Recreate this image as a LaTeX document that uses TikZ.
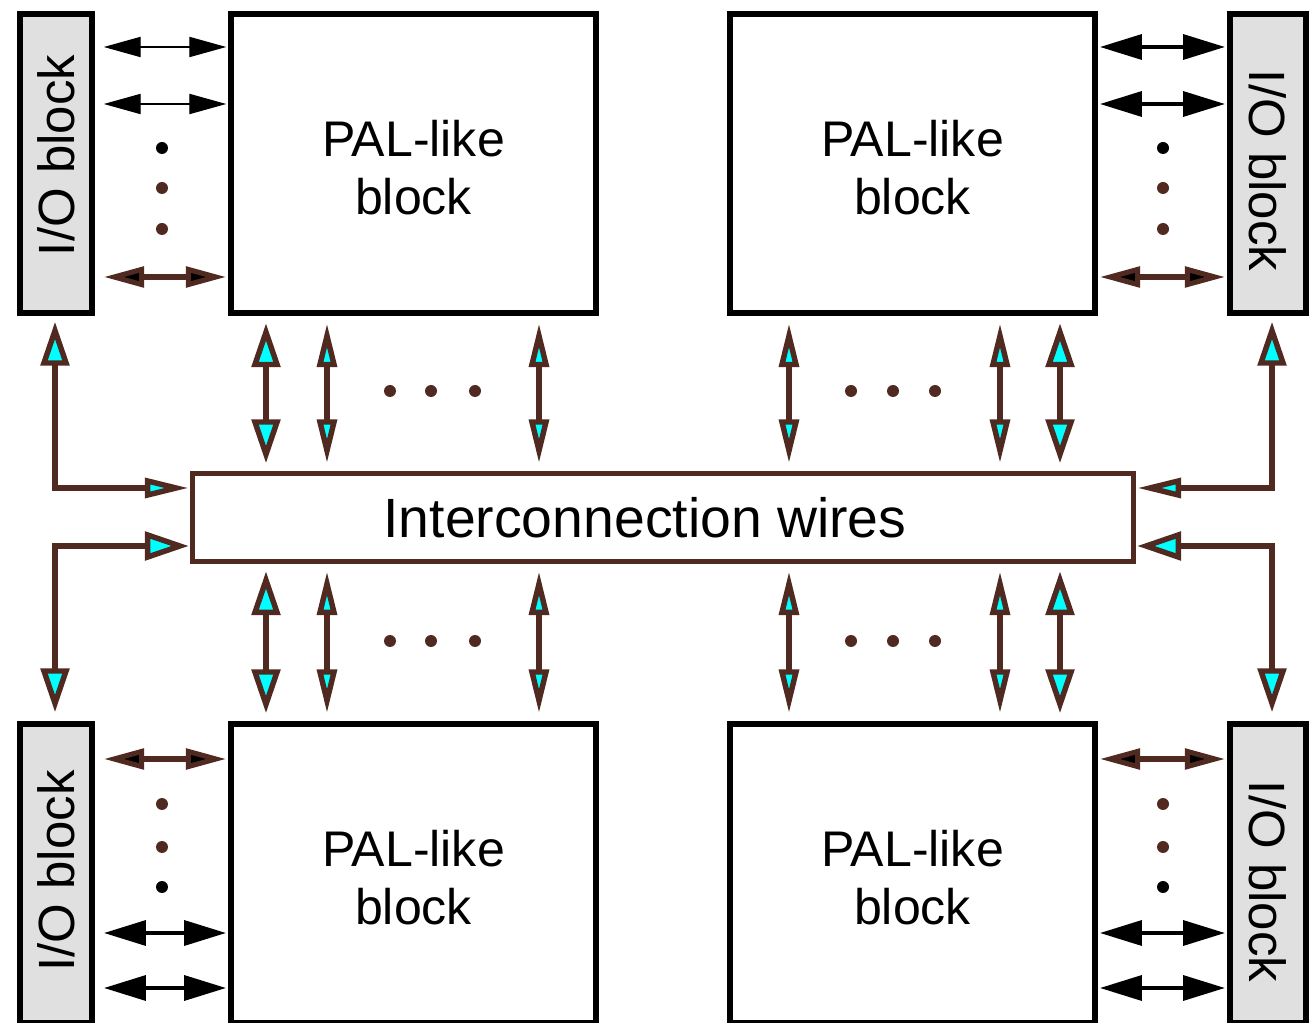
\documentclass[tikz,border=0pt]{standalone}
\usepackage{fontspec}
\setmainfont{Liberation Sans}
\usepackage{tikz}
\usetikzlibrary{arrows.meta}
\definecolor{wirebrown}{HTML}{502A20}
\definecolor{iogray}{HTML}{E0E0E0}
\definecolor{tipcyan}{HTML}{00FFFF}

\begin{document}
\begin{tikzpicture}[
  x=0.02cm, y=-0.02cm,
  palblock/.style={
    rectangle, draw=black, line width=3.2pt, fill=white,
    minimum width=7.3cm, minimum height=5.98cm,
    align=center, font=\fontsize{28.5}{33}\selectfont,
  },
  ioblock/.style={
    rectangle, draw=black, line width=3.2pt, fill=iogray,
    minimum height=5.98cm, font=\fontsize{29}{34}\selectfont,
  },
  wirebox/.style={
    rectangle, draw=wirebrown, line width=2.6pt, fill=white,
    minimum width=18.82cm, minimum height=1.76cm,
    font=\fontsize{31.5}{36}\selectfont,
  },
  wireline/.style={draw=wirebrown, line width=3.1pt},
  thinlink/.style={draw=black, line width=0.7pt},
  thicklink/.style={draw=black, line width=2.7pt},
  brownlink/.style={draw=wirebrown, line width=2.9pt},
  widetip/.tip={Triangle[length=25pt, width=16pt, fill=tipcyan]},
  thintip/.tip={Triangle[length=25pt, width=11pt, fill=tipcyan]},
  blacktip/.tip={Triangle[length=21pt, width=11.5pt]},
  bigblacktip/.tip={Triangle[length=24pt, width=14pt]},
  browntip/.tip={Triangle[length=23pt, width=11.5pt, fill=black]},
  vgap/.style={shorten <=0.15cm, shorten >=0.16cm},
  hgap/.style={shorten <=0.18cm, shorten >=0.04cm},
]
\useasboundingbox (0,0) rectangle (1313,1023);

\node[ioblock, minimum width=1.44cm] (ioTL) at (56,163.5) {\rotatebox{90}{\hspace*{0.32cm}I/O block}};
\node[palblock] (palTL) at (413.5,163.5) {\rule{0pt}{0.9cm}PAL-like\\block};
\node[palblock] (palTR) at (912.5,163.5) {\rule{0pt}{0.9cm}PAL-like\\block};
\node[ioblock, minimum width=1.52cm] (ioTR) at (1268,163.5) {\rotatebox{-90}{\hspace*{0.28cm}I/O block}};

\node[ioblock, minimum width=1.44cm] (ioBL) at (56,873.5) {\rotatebox{90}{\hspace*{0.1cm}I/O block}};
\node[palblock] (palBL) at (413.5,873.5) {\rule{0pt}{0.9cm}PAL-like\\block};
\node[palblock] (palBR) at (912.5,873.5) {\rule{0pt}{0.9cm}PAL-like\\block};
\node[ioblock, minimum width=1.52cm] (ioBR) at (1268,873.5) {\rotatebox{-90}{\hspace*{0.32cm}I/O block}};

\node[wirebox] (wires) at (663,517.5) {Interconnection wires\hspace*{0.72cm}};

\draw[thinlink, blacktip-blacktip, hgap] (ioTL.east |- 0,47) -- (palTL.west |- 0,47);
\draw[thinlink, blacktip-blacktip, hgap] (ioTL.east |- 0,104) -- (palTL.west |- 0,104);
\draw[brownlink, browntip-browntip, hgap] (ioTL.east |- 0,277) -- (palTL.west |- 0,277);
\draw[thicklink, bigblacktip-bigblacktip, shorten <=0.04cm, shorten >=0.04cm] (palTR.east |- 0,47) -- (ioTR.west |- 0,47);
\draw[thicklink, bigblacktip-bigblacktip, shorten <=0.04cm, shorten >=0.04cm] (palTR.east |- 0,104) -- (ioTR.west |- 0,104);
\draw[brownlink, browntip-browntip, shorten <=0.04cm, shorten >=0.04cm] (palTR.east |- 0,277) -- (ioTR.west |- 0,277);

\draw[brownlink, browntip-browntip, hgap] (ioBL.east |- 0,759) -- (palBL.west |- 0,759);
\draw[thicklink, bigblacktip-bigblacktip, hgap] (ioBL.east |- 0,933) -- (palBL.west |- 0,933);
\draw[thicklink, bigblacktip-bigblacktip, hgap] (ioBL.east |- 0,988) -- (palBL.west |- 0,988);
\draw[brownlink, browntip-browntip, shorten <=0.04cm, shorten >=0.04cm] (palBR.east |- 0,759) -- (ioBR.west |- 0,759);
\draw[thicklink, bigblacktip-bigblacktip, shorten <=0.04cm, shorten >=0.04cm] (palBR.east |- 0,933) -- (ioBR.west |- 0,933);
\draw[thicklink, bigblacktip-bigblacktip, shorten <=0.04cm, shorten >=0.04cm] (palBR.east |- 0,988) -- (ioBR.west |- 0,988);

\draw[wireline, widetip-widetip, vgap] (palTL.south -| 266,0) -- (wires.north -| 266,0);
\draw[wireline, thintip-thintip, vgap] (palTL.south -| 327,0) -- (wires.north -| 327,0);
\draw[wireline, thintip-thintip, vgap] (palTL.south -| 539,0) -- (wires.north -| 539,0);
\draw[wireline, thintip-thintip, vgap] (palTR.south -| 789,0) -- (wires.north -| 789,0);
\draw[wireline, thintip-thintip, vgap] (palTR.south -| 1000,0) -- (wires.north -| 1000,0);
\draw[wireline, widetip-widetip, vgap] (palTR.south -| 1060,0) -- (wires.north -| 1060,0);

\draw[wireline, widetip-widetip, vgap] (wires.south -| 266,0) -- (palBL.north -| 266,0);
\draw[wireline, thintip-thintip, vgap] (wires.south -| 327,0) -- (palBL.north -| 327,0);
\draw[wireline, thintip-thintip, vgap] (wires.south -| 539,0) -- (palBL.north -| 539,0);
\draw[wireline, thintip-thintip, vgap] (wires.south -| 789,0) -- (palBR.north -| 789,0);
\draw[wireline, thintip-thintip, vgap] (wires.south -| 1000,0) -- (palBR.north -| 1000,0);
\draw[wireline, widetip-widetip, vgap] (wires.south -| 1060,0) -- (palBR.north -| 1060,0);

\draw[wireline, widetip-thintip, shorten <=0.12cm, shorten >=0.03cm] (ioTL.south -| 55,0) |- (wires.west |- 0,488);
\draw[wireline, widetip-widetip, shorten <=0.18cm, shorten >=0.03cm] (ioBL.north -| 55,0) |- (wires.west |- 0,546);
\draw[wireline, widetip-thintip, shorten <=0.12cm, shorten >=0.03cm] (ioTR.south -| 1272,0) |- (wires.east |- 0,488);
\draw[wireline, widetip-widetip, shorten <=0.18cm, shorten >=0.03cm] (ioBR.north -| 1272,0) |- (wires.east |- 0,546);

\fill[black] (162,148) circle[radius=0.12cm];
\fill[wirebrown] (162,188) circle[radius=0.12cm];
\fill[wirebrown] (162,229) circle[radius=0.12cm];
\fill[black] (1163,148) circle[radius=0.12cm];
\fill[wirebrown] (1163,188) circle[radius=0.12cm];
\fill[wirebrown] (1163,229) circle[radius=0.12cm];
\fill[wirebrown] (162,804) circle[radius=0.12cm];
\fill[wirebrown] (162,847) circle[radius=0.12cm];
\fill[black] (162,887) circle[radius=0.12cm];
\fill[wirebrown] (1163,804) circle[radius=0.12cm];
\fill[wirebrown] (1163,847) circle[radius=0.12cm];
\fill[black] (1163,887) circle[radius=0.12cm];

\fill[wirebrown] (390,391) circle[radius=0.12cm] (431,391) circle[radius=0.12cm] (475,391) circle[radius=0.12cm];
\fill[wirebrown] (851,391) circle[radius=0.12cm] (893,391) circle[radius=0.12cm] (935,391) circle[radius=0.12cm];
\fill[wirebrown] (390,641) circle[radius=0.12cm] (431,641) circle[radius=0.12cm] (475,641) circle[radius=0.12cm];
\fill[wirebrown] (851,641) circle[radius=0.12cm] (893,641) circle[radius=0.12cm] (935,641) circle[radius=0.12cm];

\end{tikzpicture}
\end{document}
